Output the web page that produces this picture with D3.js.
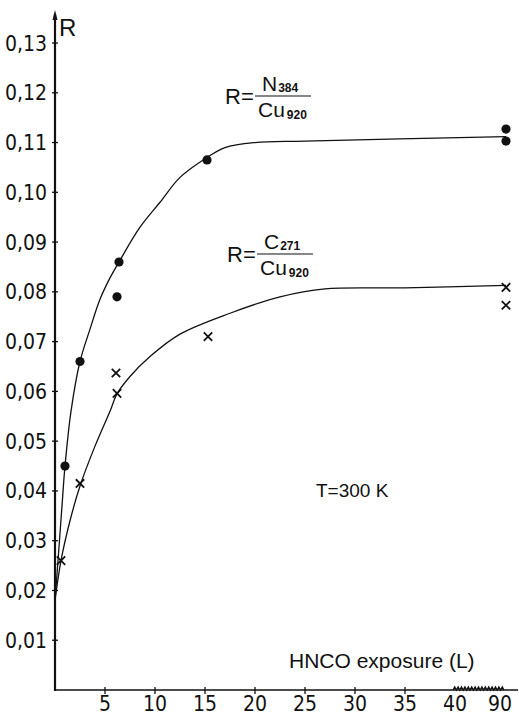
<!DOCTYPE html>
<html>
<head>
<meta charset="utf-8">
<script src="https://cdn.jsdelivr.net/npm/d3@7"></script>
<style>
  html, body { margin: 0; padding: 0; background: #fff; }
  svg { display: block; }
  .tick-label { font-family: "Liberation Sans Narrow", "DejaVu Sans Condensed", sans-serif; font-size: 21px; fill: #111; }
  .txt { font-family: "Liberation Sans", "DejaVu Sans", sans-serif; fill: #111; }
</style>
</head>
<body>
<script>
// Ratio R of Auger peak heights vs. HNCO exposure (Langmuir), T = 300 K

// y ticks (R) and x ticks (exposure, L); the x axis is broken between 40 and 90
const yTicks = [0.01, 0.02, 0.03, 0.04, 0.05, 0.06, 0.07, 0.08, 0.09, 0.10, 0.11, 0.12, 0.13];
const yTickLabels = ["0,01", "0,02", "0,03", "0,04", "0,05", "0,06", "0,07", "0,08", "0,09", "0,10", "0,11", "0,12", "0,13"];
const xTicks = [5, 10, 15, 20, 25, 30, 35, 40, 90];

// N(384)/Cu(920) measurements (filled circles)
const exposureN = [1.0, 2.5, 6.2, 6.4, 15.2, 90, 90];
const ratioN    = [0.045, 0.066, 0.079, 0.086, 0.1065, 0.1103, 0.1127];

// C(271)/Cu(920) measurements (crosses)
const exposureC = [0.6, 2.5, 6.1, 6.2, 15.3, 90, 90];
const ratioC    = [0.026, 0.0415, 0.0637, 0.0596, 0.071, 0.0773, 0.0809];

// hand-drawn trend curves
const curveNx = [0, 0.3, 0.7, 1.0, 1.6, 2.5, 3.5, 4.5, 5.5, 6.4, 8.5, 10.5, 12.5, 15.2, 17.0, 20.0, 25.0, 90];
const curveNy = [0.018, 0.026, 0.037, 0.045, 0.056, 0.066, 0.0725, 0.0785, 0.0828, 0.086, 0.093, 0.098, 0.103, 0.107, 0.109, 0.110, 0.1103, 0.1112];
const curveCx = [0, 0.6, 1.5, 2.5, 4.0, 5.5, 6.2, 7.5, 9.5, 12.5, 17.5, 22.5, 27.0, 35.0, 90];
const curveCy = [0.018, 0.026, 0.034, 0.041, 0.049, 0.056, 0.0595, 0.063, 0.067, 0.0715, 0.0757, 0.079, 0.0806, 0.0808, 0.0813];

const W = 519, H = 715;
const svg = d3.select("body").append("svg").attr("width", W).attr("height", H);

const x = d3.scaleLinear().domain([0, 40, 90]).range([55, 455, 506]);
const y = d3.scaleLinear().domain([0, 0.13]).range([690, 43]);

const ink = "#111";

// y axis with arrow
svg.append("line").attr("x1", x(0)).attr("x2", x(0)).attr("y1", y(0) + 1).attr("y2", 14)
  .attr("stroke", ink).attr("stroke-width", 2.2);
svg.append("path").attr("d", `M${x(0)},10 L${x(0) - 2.5},20 L${x(0) + 2.5},20 Z`).attr("fill", ink);
svg.append("text").attr("class", "txt").attr("x", x(0) + 4).attr("y", 36)
  .attr("font-size", 24).text("R");

const yAxis = svg.append("g");
yAxis.selectAll("line").data(yTicks).join("line")
  .attr("x1", x(0) - 3).attr("x2", x(0) + 3)
  .attr("y1", d => y(d)).attr("y2", d => y(d))
  .attr("stroke", ink).attr("stroke-width", 1.3);
yAxis.selectAll("text").data(yTicks).join("text")
  .attr("class", "tick-label")
  .attr("x", 47).attr("y", d => y(d)).attr("dy", "0.36em")
  .attr("text-anchor", "end")
  .text((d, i) => yTickLabels[i]);

// x axis
svg.append("line").attr("x1", x(0) - 1).attr("x2", 518).attr("y1", y(0)).attr("y2", y(0))
  .attr("stroke", ink).attr("stroke-width", 1.6);
const xAxis = svg.append("g");
xAxis.selectAll("line").data(xTicks.filter(d => d < 40)).join("line")
  .attr("x1", d => x(d)).attr("x2", d => x(d))
  .attr("y1", y(0) - 3).attr("y2", y(0) + 4)
  .attr("stroke", ink).attr("stroke-width", 1.3);
xAxis.selectAll("text").data(xTicks).join("text")
  .attr("class", "tick-label")
  .attr("x", d => x(d) - (d === 90 ? 6 : 0)).attr("y", 711)
  .attr("text-anchor", "middle")
  .text(d => d);

// axis break between 40 and 90: a wavy stroke over the axis
const zig = [];
const zx0 = x(40) - 2, zx1 = x(90) - 2, nZ = 30;
for (let i = 0; i <= nZ; i++) {
  zig.push([zx0 + (zx1 - zx0) * i / nZ, y(0) - 1.5 + (i % 2 ? -1.6 : 1.6)]);
}
svg.append("path").attr("d", d3.line()(zig)).attr("fill", "none")
  .attr("stroke", ink).attr("stroke-width", 1.2);

// trend curves
const line = d3.line().x(d => x(d[0])).y(d => y(d[1])).curve(d3.curveCatmullRom.alpha(0.5));
svg.append("path").attr("d", line(curveNx.map((v, i) => [v, curveNy[i]])))
  .attr("fill", "none").attr("stroke", ink).attr("stroke-width", 1.3);
svg.append("path").attr("d", line(curveCx.map((v, i) => [v, curveCy[i]])))
  .attr("fill", "none").attr("stroke", ink).attr("stroke-width", 1.3);

// measured points
svg.append("g").selectAll("circle").data(exposureN).join("circle")
  .attr("cx", d => x(d)).attr("cy", (d, i) => y(ratioN[i])).attr("r", 4.6).attr("fill", ink);

svg.append("g").selectAll("path").data(exposureC).join("path")
  .attr("d", (d, i) => {
    const cx = x(d), cy = y(ratioC[i]), s = 4.2;
    return `M${cx - s},${cy - s}L${cx + s},${cy + s}M${cx + s},${cy - s}L${cx - s},${cy + s}`;
  })
  .attr("stroke", ink).attr("stroke-width", 1.8).attr("fill", "none");

// ratio definitions
function ratioLabel(x0, baseY, num, numSub) {
  const g = svg.append("g").attr("class", "txt");
  g.append("text").attr("class", "txt").attr("x", x0).attr("y", baseY + 8).attr("font-size", 22).text("R=");
  g.append("line").attr("x1", x0 + 30).attr("x2", x0 + 86).attr("y1", baseY).attr("y2", baseY)
    .attr("stroke", ink).attr("stroke-width", 1.2);
  const n = g.append("text").attr("class", "txt").attr("x", x0 + 37).attr("y", baseY - 5).attr("font-size", 21);
  n.append("tspan").text(num);
  n.append("tspan").attr("font-size", 12).attr("font-weight", "bold").attr("dx", 1).attr("dy", 1).text(numSub);
  const dnm = g.append("text").attr("class", "txt").attr("x", x0 + 33).attr("y", baseY + 21).attr("font-size", 21);
  dnm.append("tspan").text("Cu");
  dnm.append("tspan").attr("font-size", 12).attr("font-weight", "bold").attr("dx", 2).attr("dy", 2).text("920");
}
ratioLabel(225, 96, "N", "384");
ratioLabel(227, 254, "C", "271");

svg.append("text").attr("class", "txt").attr("x", 316).attr("y", 497).attr("font-size", 19).text("T=300 K");
svg.append("text").attr("class", "txt").attr("x", 289).attr("y", 668).attr("font-size", 21).text("HNCO exposure (L)");
</script>
</body>
</html>
